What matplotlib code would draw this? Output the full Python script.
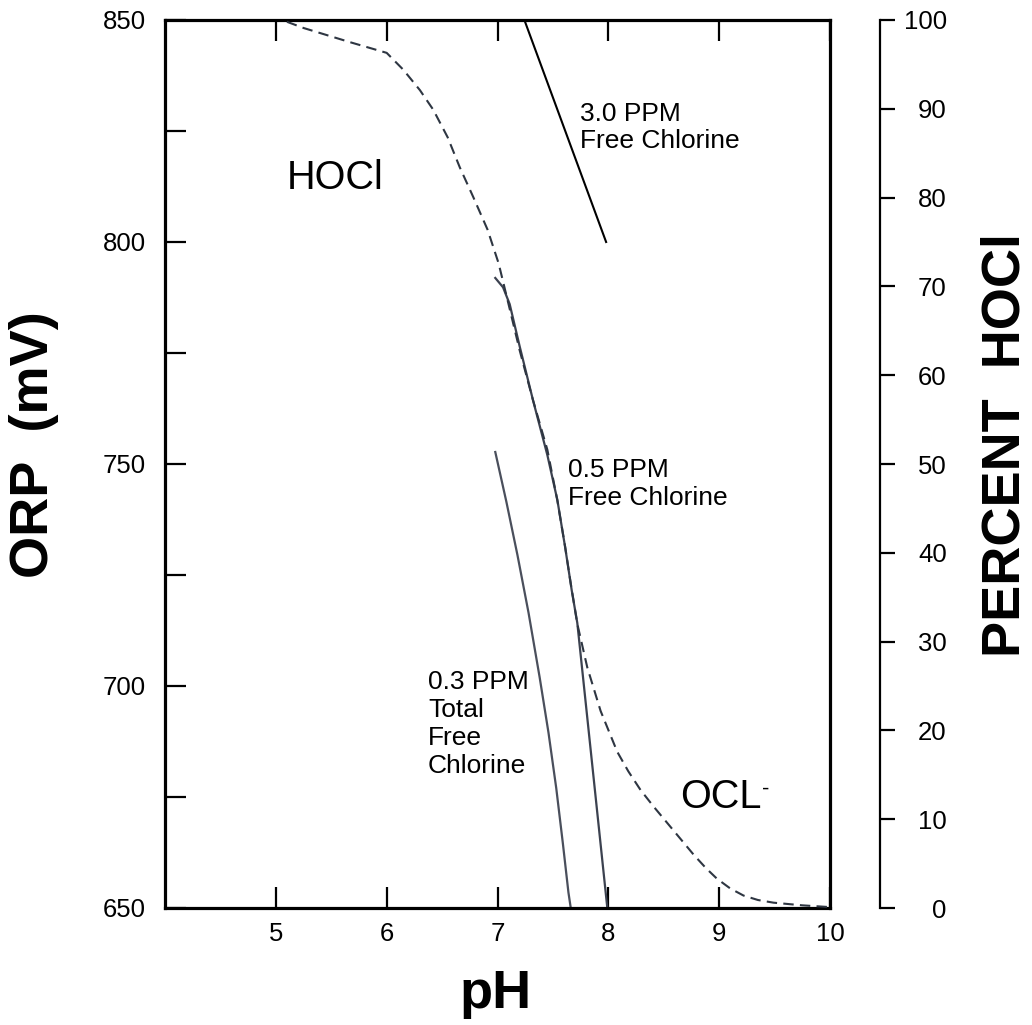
import numpy as np
import matplotlib
matplotlib.use('Agg')
import matplotlib.pyplot as plt
from matplotlib.ticker import MultipleLocator

plt.rcParams['font.family'] = ['Liberation Sans', 'DejaVu Sans']

# percent HOCl (dashed, right axis)
ph_hocl = [5.10, 5.25, 5.67, 6.00, 6.15, 6.30, 6.42, 6.55, 6.66, 6.78, 6.91, 7.01,
           7.09, 7.20, 7.32, 7.45, 7.54, 7.61, 7.66, 7.72, 7.81, 7.93, 8.08, 8.18,
           8.29, 8.41, 8.53, 8.65, 8.77, 8.88, 8.98, 9.10, 9.22, 9.35, 9.49, 9.75,
           10.0]
pct_hocl = [99.8, 99.1, 97.5, 96.3, 94.4, 92.1, 89.9, 86.8, 83.4, 80.1, 76.4, 72.6,
            68.5, 62.8, 57.2, 51.6, 45.9, 40.7, 36.6, 32.0, 27.1, 22.2, 17.6, 15.4,
            13.3, 11.4, 9.6, 7.8, 6.0, 4.5, 3.3, 2.2, 1.4, 0.9, 0.6, 0.3,
            0.1]

# ORP curves (left axis)
ph_30 = [7.25, 7.98]
orp_30 = [849.5, 800.0]
ph_05 = [6.98, 7.05, 7.11, 7.20, 7.32, 7.45, 7.54, 7.61, 7.67, 7.72, 7.99]
orp_05 = [791.9, 789.8, 786.0, 776.5, 764.4, 752.0, 741.9, 731.3, 721.5, 714.2, 650.2]
ph_03 = [6.98, 7.08, 7.18, 7.28, 7.38, 7.46, 7.53, 7.59, 7.64, 7.67]
orp_03 = [752.7, 741.5, 729.5, 716.5, 702.0, 689.5, 677.0, 664.5, 653.5, 648.5]

x_ticks = [5, 6, 7, 8, 9, 10]
orp_ticks = [650, 700, 750, 800, 850]
pct_ticks = list(range(0, 101, 10))

W, H = 1032, 1025
fig = plt.figure(figsize=(W / 100, H / 100), dpi=100)
ax = fig.add_axes([165 / W, 1 - 908 / H, 665 / W, 888 / H])

ax.plot(ph_30, orp_30, color='black', lw=1.5)
ax.plot(ph_05, orp_05, color='#3c4250', lw=1.6)
ax.plot(ph_03, orp_03, color='#4a4f5c', lw=1.6)

ax.set_xlim(4, 10)
ax.set_ylim(650, 850)
ax.set_xticks(x_ticks)
ax.set_yticks(orp_ticks)
ax.yaxis.set_minor_locator(MultipleLocator(25))
ax.tick_params(which='both', direction='in', length=15, width=1.6,
               top=True, right=True, labelsize=18.5)
ax.tick_params(axis='y', pad=14)
ax.tick_params(axis='x', pad=10)
for s in ax.spines.values():
    s.set_linewidth(2.3)

ax2 = ax.twinx()
ax2.plot(ph_hocl, pct_hocl, color='#2e3642', lw=1.5, dashes=(5, 3))
ax2.set_ylim(0, 100)
ax2.set_yticks(pct_ticks)
for side in ['left', 'top', 'bottom']:
    ax2.spines[side].set_visible(False)
ax2.spines['right'].set_position(('outward', 36))
ax2.spines['right'].set_linewidth(1.6)
ax2.tick_params(axis='y', direction='out', length=11, width=1.6,
                labelsize=18.5, pad=37)
for lbl in ax2.get_yticklabels():
    lbl.set_horizontalalignment('right')

# in-plot labels
txt = dict(fontsize=19, ha='left', va='center', linespacing=1.2)
ax.text(7.745, 825.8, '3.0 PPM\nFree Chlorine', **txt)
ax.text(7.637, 745.5, '0.5 PPM\nFree Chlorine', **txt)
ax.text(6.374, 691.4, '0.3 PPM\nTotal\nFree\nChlorine', **txt)
ax.text(5.10, 814.4, 'HOCl', fontsize=28.5, ha='left', va='center')
t = ax.text(8.648, 675.0, 'OCL', fontsize=28.5, ha='left', va='center')
ax.annotate('-', xy=(1.0, 0.98), xycoords=t, fontsize=16, ha='left', va='top')

# axis titles
fig.text(496 / W, 1 - 994 / H, 'pH', fontsize=39, fontweight='bold',
         ha='center', va='center')
fig.text(34 / W, 1 - 445 / H, 'ORP  (mV)', fontsize=39, fontweight='bold',
         rotation=90, ha='center', va='center')
fig.text(1006 / W, 1 - 445 / H, 'PERCENT  HOCl', fontsize=39, fontweight='bold',
         rotation=90, ha='center', va='center')

fig.savefig('out.png', dpi=100)
plt.close('all')
